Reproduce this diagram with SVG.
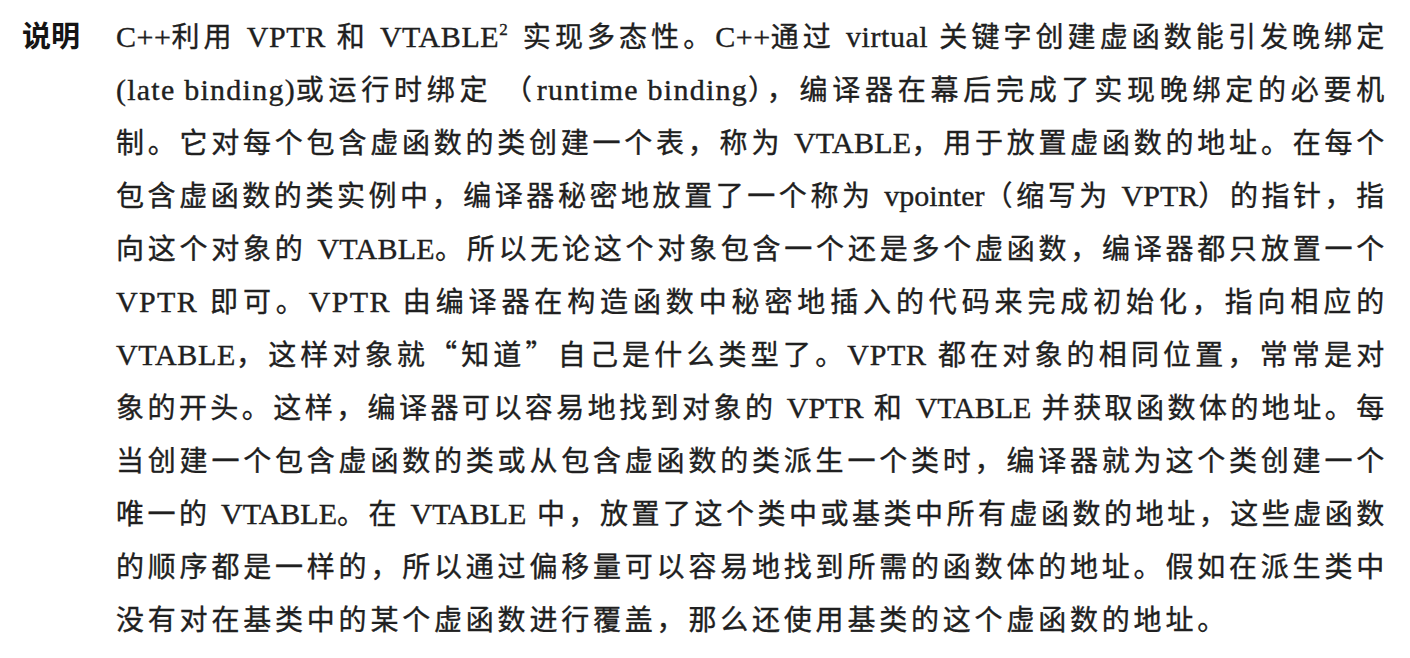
<svg xmlns="http://www.w3.org/2000/svg" width="1410" height="658" viewBox="0 0 1410 658">
<style>
.t{font-family:"Liberation Serif","Noto Sans CJK SC",serif;font-size:28px;letter-spacing:3.8px;fill:#202020;stroke:#202020;stroke-width:0.35px}
.l{font-size:30px;letter-spacing:0.3px}
.q{font-family:"Noto Sans CJK SC",sans-serif}
.h{font-family:"Noto Sans CJK SC","Noto Sans",sans-serif;font-weight:bold;font-size:29px;fill:#141414}
</style>
<rect width="1410" height="658" fill="#ffffff"/>
<g id="label">
<text class="h" x="22" y="47">说明</text>
</g>
<g id="body">
<text class="t" x="116" y="47" textLength="1272" lengthAdjust="spacing"><tspan class="l">C++</tspan>利用 <tspan class="l">VPTR</tspan> 和 <tspan class="l">VTABLE</tspan><tspan font-size="17" dy="-12">2</tspan><tspan dy="12"> 实现多态性。</tspan><tspan class="l">C++</tspan>通过 <tspan class="l">virtual</tspan> 关键字创建虚函数能引发晚绑定</text>
<text class="t" x="116" y="100" textLength="1272" lengthAdjust="spacing"><tspan class="l">(late binding)</tspan>或运行时绑定 （<tspan class="l">runtime binding</tspan>），编译器在幕后完成了实现晚绑定的必要机</text>
<text class="t" x="116" y="153" textLength="1272" lengthAdjust="spacing">制。它对每个包含虚函数的类创建一个表，称为 <tspan class="l">VTABLE</tspan>，用于放置虚函数的地址。在每个</text>
<text class="t" x="116" y="206" textLength="1272" lengthAdjust="spacing">包含虚函数的类实例中，编译器秘密地放置了一个称为 <tspan class="l">vpointer</tspan>（缩写为 <tspan class="l">VPTR</tspan>）的指针，指</text>
<text class="t" x="116" y="259" textLength="1272" lengthAdjust="spacing">向这个对象的 <tspan class="l">VTABLE</tspan>。所以无论这个对象包含一个还是多个虚函数，编译器都只放置一个</text>
<text class="t" x="116" y="312" textLength="1272" lengthAdjust="spacing"><tspan class="l">VPTR</tspan> 即可。<tspan class="l">VPTR</tspan> 由编译器在构造函数中秘密地插入的代码来完成初始化，指向相应的</text>
<text class="t" x="116" y="365" textLength="1272" lengthAdjust="spacing"><tspan class="l">VTABLE</tspan>，这样对象就<tspan class="q">“</tspan>知道<tspan class="q">”</tspan>自己是什么类型了。<tspan class="l">VPTR</tspan> 都在对象的相同位置，常常是对</text>
<text class="t" x="116" y="418" textLength="1272" lengthAdjust="spacing">象的开头。这样，编译器可以容易地找到对象的 <tspan class="l">VPTR</tspan> 和 <tspan class="l">VTABLE</tspan> 并获取函数体的地址。每</text>
<text class="t" x="116" y="471" textLength="1272" lengthAdjust="spacing">当创建一个包含虚函数的类或从包含虚函数的类派生一个类时，编译器就为这个类创建一个</text>
<text class="t" x="116" y="524" textLength="1272" lengthAdjust="spacing">唯一的 <tspan class="l">VTABLE</tspan>。在 <tspan class="l">VTABLE</tspan> 中，放置了这个类中或基类中所有虚函数的地址，这些虚函数</text>
<text class="t" x="116" y="577" textLength="1272" lengthAdjust="spacing">的顺序都是一样的，所以通过偏移量可以容易地找到所需的函数体的地址。假如在派生类中</text>
<text class="t" x="116" y="630">没有对在基类中的某个虚函数进行覆盖，那么还使用基类的这个虚函数的地址。</text>
</g>
</svg>
